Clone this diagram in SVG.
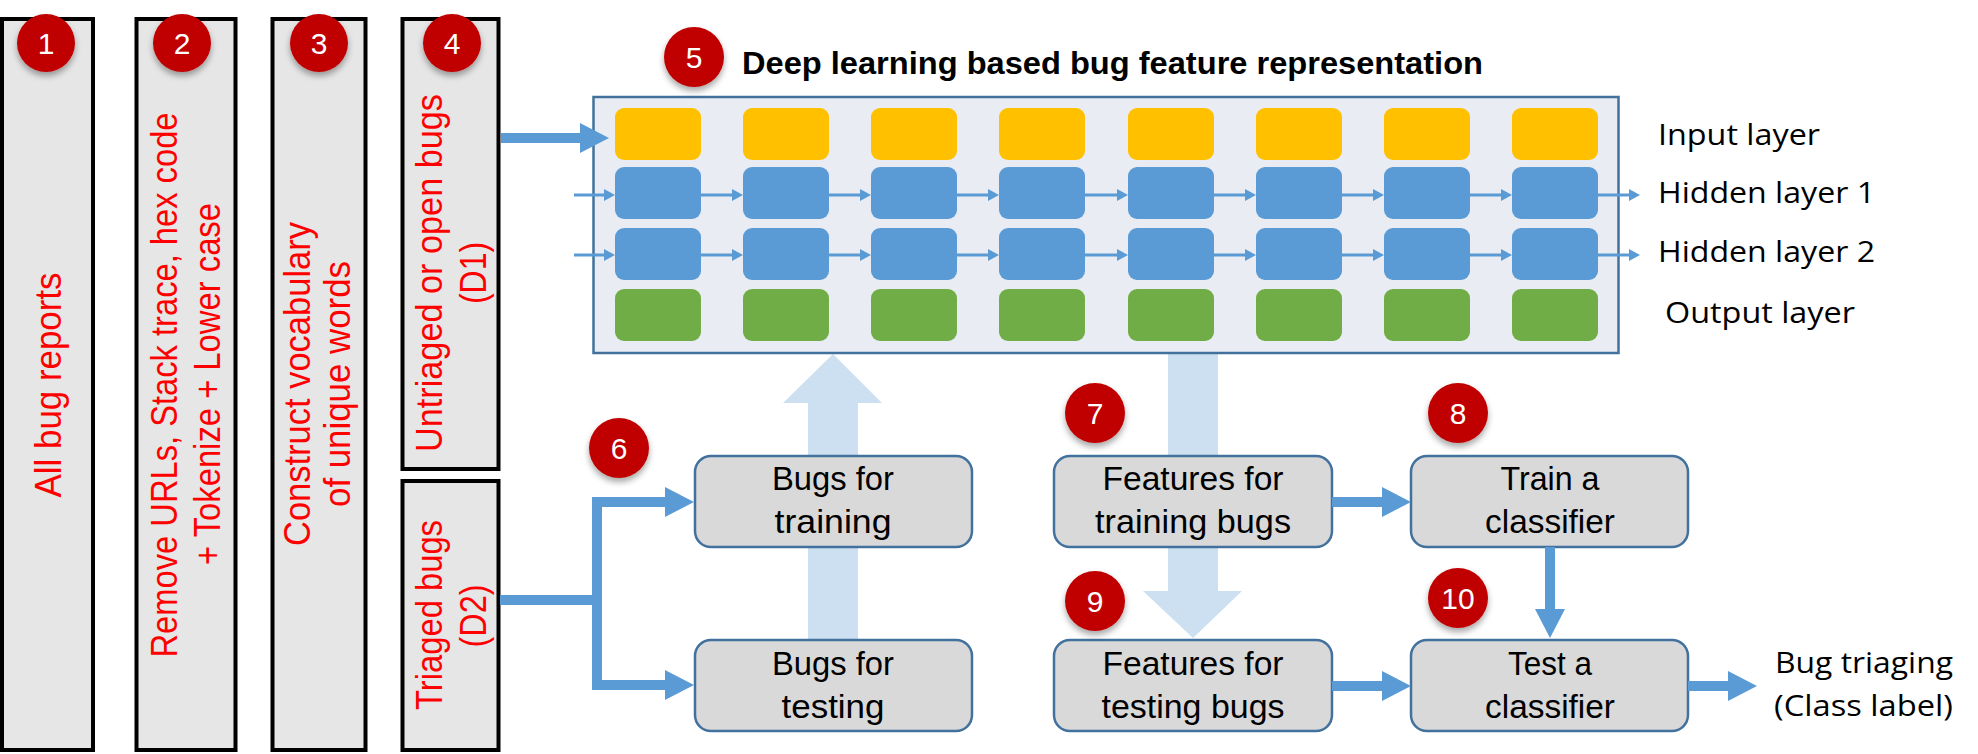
<svg xmlns="http://www.w3.org/2000/svg" width="1978" height="754" viewBox="0 0 1978 754">
<style>
.stage{fill:#e6e6e6;stroke:#000;stroke-width:4}
.red{font-family:"Liberation Sans",Arial,sans-serif;font-size:36px;fill:#ff0000;text-anchor:middle}
.badge{fill:#c00000;filter:url(#sh)}
.bnum{font-family:"Liberation Sans",Arial,sans-serif;font-size:30px;fill:#fff;text-anchor:middle}
.title{font-family:"Liberation Sans",Arial,sans-serif;font-size:31px;font-weight:bold;fill:#000}
.panel{fill:#e9edf3;stroke:#41719c;stroke-width:2.5}
.yel{fill:#ffc000}.blu{fill:#5b9bd5}.grn{fill:#70ad47}
.lbl{font-family:"Open Sans","Liberation Sans",sans-serif;font-size:30px;fill:#000}
.box{fill:#d9d9d9;stroke:#41719c;stroke-width:2.5}
.bt{font-family:"Liberation Sans",Arial,sans-serif;font-size:33px;fill:#000;text-anchor:middle}
.thin{fill:none;stroke:#5b9bd5;stroke-width:3;marker-end:url(#sm)}
.thick{fill:none;stroke:#5b9bd5;stroke-width:10;marker-end:url(#bg)}
.big{fill:#cce0f1}
</style>
<defs>
<filter id="sh" x="-40%" y="-40%" width="180%" height="190%"><feDropShadow dx="0" dy="4" stdDeviation="3" flood-color="#000" flood-opacity="0.35"/></filter>
<marker id="sm" markerUnits="userSpaceOnUse" markerWidth="12" markerHeight="12" refX="0" refY="6" orient="auto"><path d="M0,0 L11,6 L0,12 z" fill="#5b9bd5"/></marker>
<marker id="bg" markerUnits="userSpaceOnUse" markerWidth="30" markerHeight="30" refX="0" refY="15" orient="auto"><path d="M0,0 L29,15 L0,30 z" fill="#5b9bd5"/></marker>
</defs>
<rect width="1978" height="754" fill="#fff"/>

<g id="stage1"><rect class="stage" x="2" y="19" width="91" height="731"/>
<text class="red" transform="translate(61,385) rotate(-90)" textLength="225" lengthAdjust="spacingAndGlyphs">All bug reports</text></g>
<g id="stage2"><rect class="stage" x="136.5" y="19" width="99" height="731"/>
<text class="red" transform="translate(177,385) rotate(-90)" textLength="545" lengthAdjust="spacingAndGlyphs">Remove URLs, Stack trace, hex code</text>
<text class="red" transform="translate(220,384) rotate(-90)" textLength="362" lengthAdjust="spacingAndGlyphs">+ Tokenize + Lower case</text></g>
<g id="stage3"><rect class="stage" x="272.5" y="19" width="93" height="731"/>
<text class="red" transform="translate(310,384) rotate(-90)" textLength="324" lengthAdjust="spacingAndGlyphs">Construct vocabulary</text>
<text class="red" transform="translate(350,384) rotate(-90)" textLength="246" lengthAdjust="spacingAndGlyphs">of unique words</text></g>
<g id="stage4a"><rect class="stage" x="402.5" y="19" width="96" height="450"/>
<text class="red" transform="translate(442,273) rotate(-90)" textLength="358" lengthAdjust="spacingAndGlyphs">Untriaged or open bugs</text>
<text class="red" transform="translate(486,273) rotate(-90)" textLength="62" lengthAdjust="spacingAndGlyphs">(D1)</text></g>
<g id="stage4b"><rect class="stage" x="402.5" y="481" width="96" height="269"/>
<text class="red" transform="translate(442,615) rotate(-90)" textLength="190" lengthAdjust="spacingAndGlyphs">Triaged bugs</text>
<text class="red" transform="translate(486,616) rotate(-90)" textLength="63" lengthAdjust="spacingAndGlyphs">(D2)</text></g>

<g id="light-arrows">
<polygon class="big" points="808,640 808,403 783,403 833,354 882,403 858,403 858,640"/>
<polygon class="big" points="1168,353 1168,591 1143,591 1193,638 1242,591 1218,591 1218,353"/>
</g>

<g id="dl-panel">
<rect class="panel" x="593.5" y="97" width="1025" height="256"/>
<text class="title" x="742" y="74" textLength="741" lengthAdjust="spacingAndGlyphs">Deep learning based bug feature representation</text>
<g id="input-layer">
<rect class="yel" x="615" y="108" width="86" height="52" rx="9"/><rect class="yel" x="743" y="108" width="86" height="52" rx="9"/><rect class="yel" x="871" y="108" width="86" height="52" rx="9"/><rect class="yel" x="999" y="108" width="86" height="52" rx="9"/><rect class="yel" x="1128" y="108" width="86" height="52" rx="9"/><rect class="yel" x="1256" y="108" width="86" height="52" rx="9"/><rect class="yel" x="1384" y="108" width="86" height="52" rx="9"/><rect class="yel" x="1512" y="108" width="86" height="52" rx="9"/>
</g>
<g id="hidden-layer-1">
<rect class="blu" x="615" y="167" width="86" height="52" rx="9"/><rect class="blu" x="743" y="167" width="86" height="52" rx="9"/><rect class="blu" x="871" y="167" width="86" height="52" rx="9"/><rect class="blu" x="999" y="167" width="86" height="52" rx="9"/><rect class="blu" x="1128" y="167" width="86" height="52" rx="9"/><rect class="blu" x="1256" y="167" width="86" height="52" rx="9"/><rect class="blu" x="1384" y="167" width="86" height="52" rx="9"/><rect class="blu" x="1512" y="167" width="86" height="52" rx="9"/>
</g>
<g id="hidden-layer-2">
<rect class="blu" x="615" y="228" width="86" height="52" rx="9"/><rect class="blu" x="743" y="228" width="86" height="52" rx="9"/><rect class="blu" x="871" y="228" width="86" height="52" rx="9"/><rect class="blu" x="999" y="228" width="86" height="52" rx="9"/><rect class="blu" x="1128" y="228" width="86" height="52" rx="9"/><rect class="blu" x="1256" y="228" width="86" height="52" rx="9"/><rect class="blu" x="1384" y="228" width="86" height="52" rx="9"/><rect class="blu" x="1512" y="228" width="86" height="52" rx="9"/>
</g>
<g id="output-layer">
<rect class="grn" x="615" y="289" width="86" height="52" rx="9"/><rect class="grn" x="743" y="289" width="86" height="52" rx="9"/><rect class="grn" x="871" y="289" width="86" height="52" rx="9"/><rect class="grn" x="999" y="289" width="86" height="52" rx="9"/><rect class="grn" x="1128" y="289" width="86" height="52" rx="9"/><rect class="grn" x="1256" y="289" width="86" height="52" rx="9"/><rect class="grn" x="1384" y="289" width="86" height="52" rx="9"/><rect class="grn" x="1512" y="289" width="86" height="52" rx="9"/>
</g>
</g>

<g id="layer-labels">
<text class="lbl" x="1658" y="145" textLength="162" lengthAdjust="spacingAndGlyphs">Input layer</text>
<text class="lbl" x="1658" y="203" textLength="217" lengthAdjust="spacingAndGlyphs">Hidden layer 1</text>
<text class="lbl" x="1658" y="262" textLength="217" lengthAdjust="spacingAndGlyphs">Hidden layer 2</text>
<text class="lbl" x="1665" y="323" textLength="190" lengthAdjust="spacingAndGlyphs">Output layer</text>
</g>

<g id="bugs-training"><rect class="box" x="695" y="456" width="277" height="91" rx="16"/>
<text class="bt" x="833" y="490" textLength="122" lengthAdjust="spacingAndGlyphs">Bugs for</text>
<text class="bt" x="833" y="533" textLength="117" lengthAdjust="spacingAndGlyphs">training</text></g>
<g id="bugs-testing"><rect class="box" x="695" y="640" width="277" height="91" rx="16"/>
<text class="bt" x="833" y="675" textLength="122" lengthAdjust="spacingAndGlyphs">Bugs for</text>
<text class="bt" x="833" y="718" textLength="103" lengthAdjust="spacingAndGlyphs">testing</text></g>
<g id="features-training"><rect class="box" x="1054" y="456" width="278" height="91" rx="16"/>
<text class="bt" x="1193" y="490" textLength="181" lengthAdjust="spacingAndGlyphs">Features for</text>
<text class="bt" x="1193" y="533" textLength="196" lengthAdjust="spacingAndGlyphs">training bugs</text></g>
<g id="features-testing"><rect class="box" x="1054" y="640" width="278" height="91" rx="16"/>
<text class="bt" x="1193" y="675" textLength="181" lengthAdjust="spacingAndGlyphs">Features for</text>
<text class="bt" x="1193" y="718" textLength="183" lengthAdjust="spacingAndGlyphs">testing bugs</text></g>
<g id="train-classifier"><rect class="box" x="1411" y="456" width="277" height="91" rx="16"/>
<text class="bt" x="1550" y="490" textLength="99" lengthAdjust="spacingAndGlyphs">Train a</text>
<text class="bt" x="1550" y="533" textLength="130" lengthAdjust="spacingAndGlyphs">classifier</text></g>
<g id="test-classifier"><rect class="box" x="1411" y="640" width="277" height="91" rx="16"/>
<text class="bt" x="1550" y="675" textLength="84" lengthAdjust="spacingAndGlyphs">Test a</text>
<text class="bt" x="1550" y="718" textLength="130" lengthAdjust="spacingAndGlyphs">classifier</text></g>
<g id="bug-triaging">
<text class="lbl" x="1775" y="673" textLength="178" lengthAdjust="spacingAndGlyphs">Bug triaging</text>
<text class="lbl" x="1774" y="716" textLength="179" lengthAdjust="spacingAndGlyphs">(Class label)</text></g>

<g id="connectors">
<path class="thin" d="M574,195 H604"/><path class="thin" d="M701,195 H732"/><path class="thin" d="M829,195 H860"/><path class="thin" d="M957,195 H988"/><path class="thin" d="M1085,195 H1117"/><path class="thin" d="M1214,195 H1245"/><path class="thin" d="M1342,195 H1373"/><path class="thin" d="M1470,195 H1501"/><path class="thin" d="M1598,195 H1629"/>
<path class="thin" d="M574,255 H604"/><path class="thin" d="M701,255 H732"/><path class="thin" d="M829,255 H860"/><path class="thin" d="M957,255 H988"/><path class="thin" d="M1085,255 H1117"/><path class="thin" d="M1214,255 H1245"/><path class="thin" d="M1342,255 H1373"/><path class="thin" d="M1470,255 H1501"/><path class="thin" d="M1598,255 H1629"/>
<path class="thick" d="M501,138 H580"/>
<path class="thick" d="M500,600 H597 V502 H665"/>
<path class="thick" d="M597,600 V685 H665"/>
<path class="thick" d="M1332,502 H1382"/>
<path class="thick" d="M1332,686 H1382"/>
<path class="thick" d="M1550,547 V609"/>
<path class="thick" d="M1688,686 H1728"/>
</g>

<g id="badges">
<g id="b1"><circle class="badge" cx="46" cy="43" r="29"/><text class="bnum" x="46" y="54">1</text></g>
<g id="b2"><circle class="badge" cx="182" cy="43" r="29"/><text class="bnum" x="182" y="54">2</text></g>
<g id="b3"><circle class="badge" cx="319" cy="43" r="29"/><text class="bnum" x="319" y="54">3</text></g>
<g id="b4"><circle class="badge" cx="452" cy="43" r="29"/><text class="bnum" x="452" y="54">4</text></g>
<g id="b5"><circle class="badge" cx="694" cy="57" r="30"/><text class="bnum" x="694" y="68">5</text></g>
<g id="b6"><circle class="badge" cx="619" cy="448" r="30"/><text class="bnum" x="619" y="459">6</text></g>
<g id="b7"><circle class="badge" cx="1095" cy="413" r="30"/><text class="bnum" x="1095" y="424">7</text></g>
<g id="b8"><circle class="badge" cx="1458" cy="413" r="30"/><text class="bnum" x="1458" y="424">8</text></g>
<g id="b9"><circle class="badge" cx="1095" cy="601" r="30"/><text class="bnum" x="1095" y="612">9</text></g>
<g id="b10"><circle class="badge" cx="1458" cy="598" r="30"/><text class="bnum" x="1458" y="609">10</text></g>
</g>
</svg>
